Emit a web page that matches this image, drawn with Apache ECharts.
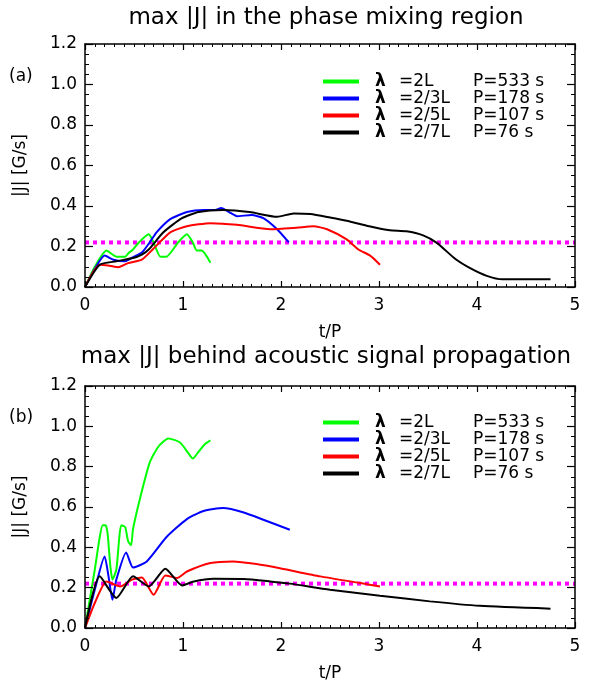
<!DOCTYPE html>
<html><head><meta charset="utf-8">
<script src="https://cdn.jsdelivr.net/npm/echarts@6/dist/echarts.min.js"></script>
<style>html,body{margin:0;padding:0;background:#fff}#c{width:599px;height:684px}</style>
</head><body><div id="c"></div>
<script>
const xTicks = [0,1,2,3,4,5];
const lamLabels = ['=2L','=2/3L','=2/5L','=2/7L'];
const periods = ['P=533 s','P=178 s','P=107 s','P=76 s'];
const colors = ['#00ff00','#0000ff','#ff0000','#000000'];
const threshold = 0.22;

// (a) max |J| in the phase mixing region
const aGreen = [[0,0],[0.1,0.1],[0.22,0.18],[0.32,0.15],[0.41,0.15],[0.45,0.17],[0.48,0.18],[0.55,0.22],[0.65,0.26],[0.7,0.22],[0.77,0.15],[0.83,0.15],[0.95,0.22],[1.04,0.26],[1.1,0.22],[1.14,0.18],[1.19,0.18],[1.28,0.12]];
const aBlue = [[0,0],[0.1,0.09],[0.2,0.155],[0.29,0.135],[0.41,0.127],[0.5,0.15],[0.58,0.17],[0.66,0.22],[0.73,0.27],[0.87,0.335],[1.04,0.37],[1.21,0.38],[1.33,0.38],[1.39,0.39],[1.47,0.37],[1.55,0.35],[1.70,0.355],[1.82,0.34],[1.96,0.285],[2.08,0.22]];
const aRed = [[0,0],[0.15,0.11],[0.25,0.105],[0.34,0.098],[0.44,0.118],[0.58,0.135],[0.7,0.19],[0.87,0.27],[1.04,0.3],[1.28,0.315],[1.55,0.307],[1.89,0.285],[2.16,0.293],[2.33,0.30],[2.47,0.285],[2.67,0.235],[2.79,0.185],[2.91,0.155],[3.01,0.11]];
const aBlack = [[0,0],[0.15,0.11],[0.32,0.127],[0.49,0.143],[0.58,0.16],[0.65,0.185],[0.8,0.27],[0.99,0.34],[1.16,0.37],[1.41,0.38],[1.68,0.37],[1.96,0.347],[2.13,0.363],[2.30,0.36],[2.5,0.343],[2.67,0.327],[2.9,0.3],[3.11,0.28],[3.28,0.275],[3.45,0.255],[3.59,0.218],[3.78,0.138],[3.93,0.093],[4.10,0.055],[4.26,0.038],[4.75,0.038]];

// (b) max |J| behind acoustic signal propagation
const bGreen = [[0,0],[0.1,0.29],[0.15,0.45],[0.18,0.51],[0.21,0.51],[0.23,0.47],[0.26,0.3],[0.28,0.24],[0.32,0.29],[0.35,0.45],[0.37,0.51],[0.41,0.5],[0.44,0.43],[0.47,0.41],[0.49,0.49],[0.56,0.64],[0.66,0.82],[0.75,0.9],[0.85,0.94],[0.97,0.92],[1.05,0.87],[1.10,0.84],[1.16,0.875],[1.22,0.91],[1.28,0.93]];
const bBlue = [[0,0],[0.1,0.19],[0.2,0.355],[0.24,0.256],[0.28,0.14],[0.32,0.24],[0.42,0.375],[0.49,0.30],[0.63,0.33],[0.83,0.45],[1.04,0.54],[1.21,0.58],[1.41,0.595],[1.62,0.573],[1.82,0.537],[2.09,0.487]];
const bRed = [[0,0],[0.1,0.124],[0.22,0.23],[0.36,0.206],[0.48,0.24],[0.58,0.25],[0.7,0.165],[0.82,0.26],[0.94,0.248],[1.04,0.28],[1.28,0.322],[1.51,0.33],[1.75,0.317],[2.0,0.295],[2.4,0.256],[2.81,0.223],[3.01,0.206]];
const bBlack = [[0,0],[0.15,0.256],[0.32,0.149],[0.49,0.256],[0.65,0.206],[0.82,0.294],[0.99,0.211],[1.11,0.231],[1.31,0.244],[1.62,0.243],[1.89,0.231],[2.09,0.22],[2.5,0.19],[3.01,0.16],[3.52,0.132],[4.03,0.11],[4.75,0.096]];

const FONT = 'DejaVu Sans';
const names = lamLabels.map((l,i)=>'λ '+l+'|'+periods[i]);
const chart = echarts.init(document.getElementById('c'));

function xAx(gi, main){
  const o = {type:'value', gridIndex:gi, min:0, max:5, interval:1, position: main?'bottom':'top',
    zlevel:1, z:10,
    axisLine:{show:true, onZero:false, lineStyle:{color:'#000', width:1.5}},
    axisTick:{show:true, inside:true, length:6, lineStyle:{color:'#000', width:1.2}},
    minorTick:{show:true, splitNumber:10, length:3, lineStyle:{color:'#000', width:1}},
    splitLine:{show:false},
    axisLabel:{show:main, color:'#000', fontFamily:FONT, fontSize:17, margin:10}};
  if(main){ o.name='t/P'; o.nameLocation='middle'; o.nameGap=37;
    o.nameTextStyle={color:'#000', fontFamily:FONT, fontSize:17}; }
  return o;
}
function yAx(gi, main){
  const o = {type:'value', gridIndex:gi, min:0, max:1.2, interval:0.2, position: main?'left':'right',
    zlevel:1, z:10,
    axisLine:{show:true, onZero:false, lineStyle:{color:'#000', width:1.5}},
    axisTick:{show:true, inside:true, length:8, lineStyle:{color:'#000', width:1.2}},
    minorTick:{show:true, splitNumber:4, length:4, lineStyle:{color:'#000', width:1}},
    splitLine:{show:false},
    axisLabel:{show:main, color:'#000', fontFamily:FONT, fontSize:17, margin:8, formatter:v=>v.toFixed(1)}};
  if(main){ o.name='|J| [G/s]'; o.nameLocation='middle'; o.nameGap=56;
    o.nameTextStyle={color:'#000', fontFamily:FONT, fontSize:17}; }
  return o;
}
function lineS(name, data, color, xi, yi){
  return {type:'line', name, data, xAxisIndex:xi, yAxisIndex:yi, showSymbol:false, symbol:'none',
    smooth:0.2, lineStyle:{color, width:2}, itemStyle:{color}};
}
function thr(xi, yi){
  return {type:'line', name:'thr', data:[[0,threshold],[5,threshold]], xAxisIndex:xi, yAxisIndex:yi,
    symbol:'none', lineStyle:{color:'#ff00ff', width:4, type:[4,4]}};
}
function legend(top){
  return {top, left:318, orient:'vertical', itemGap:0, itemWidth:36, itemHeight:4, icon:'rect',
    data:names, selectedMode:false,
    formatter: n => { const p=n.split('|'); const q=p[0].split(' ');
      return '{a|'+q[0]+'}{b|'+q[1]+'}{c|'+p[1]+'}'; },
    textStyle:{color:'#000', fontFamily:FONT, fontSize:17, lineHeight:17,
      rich:{a:{fontWeight:'bold', fontFamily:FONT, fontSize:17, width:24, padding:[0,0,0,11]},
            b:{fontFamily:FONT, fontSize:17, width:74},
            c:{fontFamily:FONT, fontSize:17}}}};
}
const tStyle = {color:'#000', fontFamily:FONT, fontSize:23, fontWeight:'normal'};
const pStyle = {color:'#000', fontFamily:FONT, fontSize:17, fontWeight:'normal'};

const option = {
  animation:false,
  title:[
    {text:'max |J| in the phase mixing region', left:321, textAlign:'center', top:2, textStyle:tStyle},
    {text:'max |J| behind acoustic signal propagation', left:321, textAlign:'center', top:341, textStyle:tStyle},
    {text:'(a)', left:4, top:63, textStyle:pStyle},
    {text:'(b)', left:4, top:404, textStyle:pStyle}
  ],
  legend:[legend(68), legend(409)],
  grid:[
    {left:85, right:24, top:44, height:243},
    {left:85, right:24, top:386, height:242}
  ],
  xAxis:[xAx(0,true), xAx(0,false), xAx(1,true), xAx(1,false)],
  yAxis:[yAx(0,true), yAx(0,false), yAx(1,true), yAx(1,false)],
  series:[
    thr(0,0),
    lineS(names[0], aGreen, colors[0], 0, 0),
    lineS(names[1], aBlue, colors[1], 0, 0),
    lineS(names[2], aRed, colors[2], 0, 0),
    lineS(names[3], aBlack, colors[3], 0, 0),
    thr(2,2),
    lineS(names[0], bGreen, colors[0], 2, 2),
    lineS(names[1], bBlue, colors[1], 2, 2),
    lineS(names[2], bRed, colors[2], 2, 2),
    lineS(names[3], bBlack, colors[3], 2, 2)
  ]
};
chart.setOption(option);
</script></body></html>
